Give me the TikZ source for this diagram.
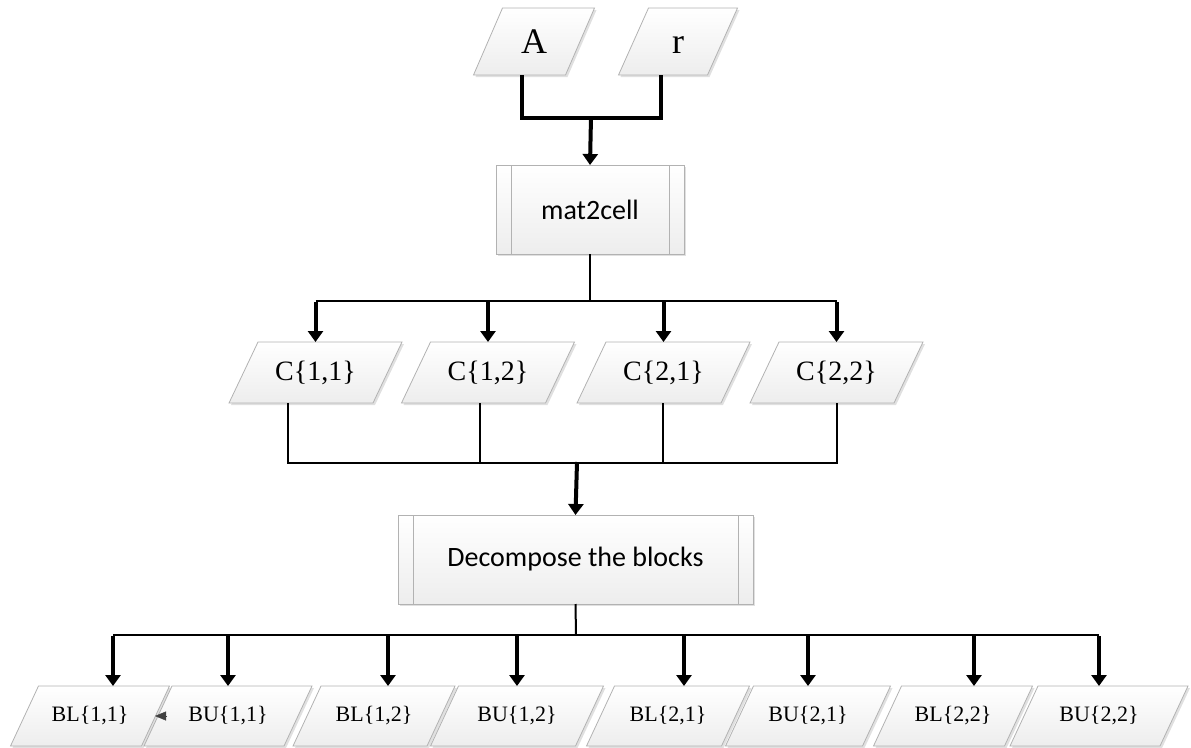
\documentclass[tikz,border=0pt]{standalone}
\usepackage{fontspec}
\setmainfont{Liberation Serif}
\newfontfamily\calibrifont{Carlito}
\usetikzlibrary{arrows.meta,calc}

\tikzset{
  thinline/.style={line width=2pt, black},
  thickline/.style={line width=3.4pt, black},
  arrowline/.style={line width=4pt, black, -{Triangle[width=15pt,length=11pt]}},
  parashape/.style={draw=gray!60, line width=0.8pt, top color=white, bottom color=gray!14},
  shadowshape/.style={fill=black, opacity=0.12},
  ptext/.style={inner sep=0pt, outer sep=0pt, draw=none},
  procstyle/.style={draw=gray!60, line width=0.8pt, top color=white, bottom color=gray!14, inner sep=0pt, outer sep=0pt, font=\calibrifont\fontsize{28}{32}\selectfont},
  procinner/.style={draw=gray!60, line width=0.8pt},
  smalltip/.style={draw=black!75, fill=black!75, line width=0.4pt, -{Triangle[width=9pt,length=11pt]}}
}

% name, cx, cy, w, h, slant, text
\newcommand\paranode[7]{%
  \path[shadowshape] (#2-#4/2-#6/2+2,#3+#5/2+2) -- (#2+#4/2-#6/2+2,#3+#5/2+2) -- (#2+#4/2+#6/2+2,#3-#5/2+2) -- (#2-#4/2+#6/2+2,#3-#5/2+2) -- cycle;
  \path[parashape] (#2-#4/2-#6/2,#3+#5/2) -- (#2+#4/2-#6/2,#3+#5/2) -- (#2+#4/2+#6/2,#3-#5/2) -- (#2-#4/2+#6/2,#3-#5/2) -- cycle;
  \node[ptext, minimum width=#4pt, minimum height=#5pt] (#1) at (#2,#3) {#7};
}
% name, cx, cy, w, h, text
\newcommand\procnode[6]{%
  \path[shadowshape] (#2-#4/2+2,#3-#5/2+2) rectangle (#2+#4/2+2,#3+#5/2+2);
  \node[procstyle, minimum width=#4pt, minimum height=#5pt] (#1) at (#2,#3) {#6};
  \draw[procinner] ([xshift=15pt]#1.north west) -- ([xshift=15pt]#1.south west);
  \draw[procinner] ([xshift=-15pt]#1.north east) -- ([xshift=-15pt]#1.south east);
}

\begin{document}
\begin{tikzpicture}[x=1pt, y=-1pt]
\useasboundingbox (0,0) rectangle (1191,747);

% top inputs
\paranode{A}{534}{41.5}{92}{67}{29}{\fontsize{36}{40}\selectfont A}
\paranode{r}{678}{41.5}{89}{67}{30}{\fontsize{36}{40}\selectfont\vphantom{A}r}

% process boxes
\procnode{m2c}{590}{209.5}{188}{89}{mat2cell}
\procnode{dec}{575.5}{559.5}{355}{89}{Decompose the blocks}

% C row
\paranode{C11}{315.5}{372.5}{144}{61}{29}{\fontsize{28}{32}\selectfont C\{1,1\}}
\paranode{C12}{488}{372.5}{144}{61}{29}{\fontsize{28}{32}\selectfont C\{1,2\}}
\paranode{C21}{663.5}{372.5}{144}{61}{29}{\fontsize{28}{32}\selectfont C\{2,1\}}
\paranode{C22}{836.5}{372.5}{144}{61}{29}{\fontsize{28}{32}\selectfont C\{2,2\}}

% bottom row
\paranode{BL11}{90}{716}{131}{60}{28}{\fontsize{22}{26}\selectfont BL\{1,1\}}
\paranode{BU11}{228}{716}{140}{60}{28}{\fontsize{22}{26}\selectfont BU\{1,1\}}
\paranode{BL12}{374}{716}{134}{60}{28}{\fontsize{22}{26}\selectfont BL\{1,2\}}
\paranode{BU12}{517}{716}{145}{60}{28}{\fontsize{22}{26}\selectfont BU\{1,2\}}
\paranode{BL21}{668}{716}{135}{60}{28}{\fontsize{22}{26}\selectfont BL\{2,1\}}
\paranode{BU21}{808}{716}{137}{60}{28}{\fontsize{22}{26}\selectfont BU\{2,1\}}
\paranode{BL22}{953}{716}{131}{60}{28}{\fontsize{22}{26}\selectfont BL\{2,2\}}
\paranode{BU22}{1099}{716}{150}{60}{28}{\fontsize{22}{26}\selectfont BU\{2,2\}}

% junction coordinates
\coordinate (jtop) at (591,118);
\coordinate (jm) at (590,301);
\coordinate (jc) at (577,463);
\coordinate (jd) at (576,635);

% inputs to mat2cell
\draw[thickline] ([xshift=-12pt]A.south) |- (jtop) -| ([xshift=-17pt]r.south);
\draw[arrowline] ([yshift=1pt]jtop) -- (m2c.north);

% mat2cell to C blocks
\draw[thinline] (m2c.south) -- (jm);
\draw[thinline] (C11.north |- jm) -- (C22.north |- jm);
\foreach \n in {C11,C12,C21,C22}{
  \draw[arrowline] ([yshift=-1pt]\n.north |- jm) -- (\n.north);
}

% C blocks to decompose
\draw[thinline] ([xshift=-28pt]C11.south) |- (jc) -| (C22.south);
\draw[thinline] ([xshift=-8pt]C12.south) -- ([xshift=-8pt]C12.south |- jc);
\draw[thinline] ([xshift=-1pt]C21.south) -- ([xshift=-1pt]C21.south |- jc);
\draw[arrowline] ([yshift=1pt]jc) -- (dec.north);

% decompose to outputs
\draw[thinline] (dec.south) -- (jd);
\draw[thinline] ([xshift=23pt]BL11.north |- jd) -- (BU22.north |- jd);
\draw[arrowline] ([xshift=23pt,yshift=-1pt]BL11.north |- jd) -- ([xshift=23pt]BL11.north);
\draw[arrowline] ([yshift=-1pt]BU11.north |- jd) -- (BU11.north);
\draw[arrowline] ([xshift=14pt,yshift=-1pt]BL12.north |- jd) -- ([xshift=14pt]BL12.north);
\draw[arrowline] ([yshift=-1pt]BU12.north |- jd) -- (BU12.north);
\draw[arrowline] ([xshift=16pt,yshift=-1pt]BL21.north |- jd) -- ([xshift=16pt]BL21.north);
\draw[arrowline] ([yshift=-1pt]BU21.north |- jd) -- (BU21.north);
\draw[arrowline] ([xshift=21pt,yshift=-1pt]BL22.north |- jd) -- ([xshift=21pt]BL22.north);
\draw[arrowline] ([yshift=-1pt]BU22.north |- jd) -- (BU22.north);

% small arrowhead between BU{1,1} and BL{1,1}
\draw[smalltip] ([xshift=9pt]BU11.west) -- ([xshift=-3pt]BU11.west);
\end{tikzpicture}
\end{document}
